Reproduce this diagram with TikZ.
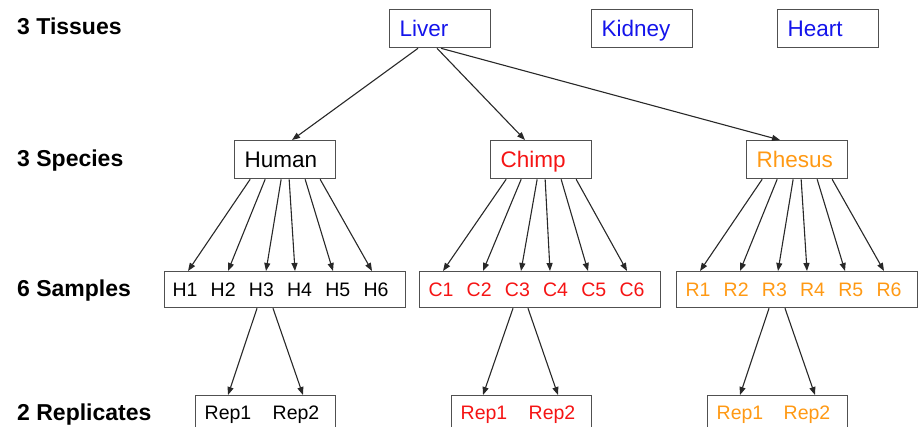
\documentclass[tikz,border=0pt]{standalone}
\usepackage{fontspec}
\setmainfont{Liberation Sans}
\usetikzlibrary{arrows.meta}
\definecolor{tblue}{RGB}{20,20,235}
\definecolor{cred}{RGB}{245,20,20}
\definecolor{rorange}{RGB}{255,153,20}
\definecolor{boxgray}{RGB}{80,80,80}
\definecolor{linegray}{RGB}{40,40,40}
\tikzset{
 tbox/.style={draw=boxgray, line width=1.3pt, anchor=north west, minimum height=38pt,
   text width=81pt, inner xsep=10pt, inner ysep=0pt, align=left,
   text height=16pt, text depth=0pt, font=\fontsize{22.5}{24}\selectfont},
 sbox/.style={draw=boxgray, line width=1.3pt, anchor=north west, minimum width=241pt,
   minimum height=36pt, inner sep=0pt},
 rbox/.style={draw=boxgray, line width=1.3pt, anchor=north west, minimum width=140pt,
   minimum height=37pt, inner sep=0pt},
 smp/.style={inner sep=0pt, text height=14pt, text depth=0pt, font=\fontsize{19.5}{21}\selectfont},
 lvl/.style={anchor=base west, inner sep=0pt, font=\bfseries\fontsize{23}{25}\selectfont},
 arr/.style={draw=linegray, line width=1.1pt, -{Triangle[length=8pt,width=6pt]}}
}
\begin{document}
\begin{tikzpicture}[x=1pt,y=-1pt]
\useasboundingbox (0,0) rectangle (920,427);
\clip (0,0) rectangle (920,427);
% level labels
\node[lvl] (l1) at (17,35) {3 Tissues};
\node[lvl] (l2) at (17,167) {3 Species};
\node[lvl] (l3) at (17,297) {6 Samples};
\node[lvl] (l4) at (17,420) {2 Replicates};
% tissues
\node[tbox,text=tblue] (liv) at (389,9) {Liver};
\node[tbox,text=tblue] (kid) at (591,9) {Kidney};
\node[tbox,text=tblue] (hea) at (777,9) {Heart};
% species
\node[tbox] (hum) at (234,140) {Human};
\node[tbox,text=cred] (chi) at (490,140) {Chimp};
\node[tbox,text=rorange] (rhe) at (746,140) {Rhesus};
% sample boxes
\node[sbox] (hs) at (164,271) {};
\node[sbox] (cs) at (419,271) {};
\node[sbox] (rs) at (676,271) {};
\foreach \i in {1,...,6}{
  \node[smp] (h\i) at ({164+21+38.2*(\i-1)},289.5) {H\i};
  \node[smp,text=cred] (c\i) at ({419+22+38.2*(\i-1)},289.5) {C\i};
  \node[smp,text=rorange] (r\i) at ({676+22+38.2*(\i-1)},289.5) {R\i};
}
% replicate boxes
\node[rbox] (hr) at (195,395) {};
\node[rbox] (cr) at (451,395) {};
\node[rbox] (rr) at (707,395) {};
\node[smp] (hr1) at (228,412) {Rep1};
\node[smp] (hr2) at (296,412) {Rep2};
\node[smp,text=cred] (cr1) at (484,412) {Rep1};
\node[smp,text=cred] (cr2) at (552,412) {Rep2};
\node[smp,text=rorange] (rr1) at (740,412) {Rep1};
\node[smp,text=rorange] (rr2) at (807,412) {Rep2};
% tissue -> species
\draw[arr] ([xshift=29pt]liv.south west) -- ([xshift=58pt]hum.north west);
\draw[arr] ([xshift=48pt]liv.south west) -- ([xshift=35pt]chi.north west);
\draw[arr] ([xshift=52pt]liv.south west) -- ([xshift=34pt]rhe.north west);
% species -> samples
\foreach \o/\t in {-35/24, -20/64, -4/102, 4/131, 20/169, 35/208}{
  \draw[arr] ([xshift=\o pt]hum.south) -- ([xshift=\t pt]hs.north west);
  \draw[arr] ([xshift=\o pt]chi.south) -- ([xshift=\t pt]cs.north west);
  \draw[arr] ([xshift=\o pt]rhe.south) -- ([xshift=\t pt]rs.north west);
}
% samples -> replicates
\draw[arr] ([xshift=93pt]hs.south west) -- ([xshift=33pt]hr.north west);
\draw[arr] ([xshift=109pt]hs.south west) -- ([xshift=108pt]hr.north west);
\draw[arr] ([xshift=94pt]cs.south west) -- ([xshift=32pt]cr.north west);
\draw[arr] ([xshift=109pt]cs.south west) -- ([xshift=107pt]cr.north west);
\draw[arr] ([xshift=93pt]rs.south west) -- ([xshift=33pt]rr.north west);
\draw[arr] ([xshift=109pt]rs.south west) -- ([xshift=108pt]rr.north west);
\end{tikzpicture}
\end{document}
